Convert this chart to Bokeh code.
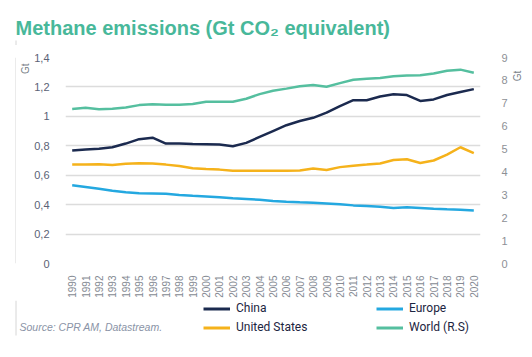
import math
from bokeh.plotting import figure
from bokeh.layouts import column, row
from bokeh.models import (Range1d, LinearAxis, FixedTicker, CustomJSTickFormatter,
                          Label, Legend, LegendItem, Span, FactorRange, Title, Arrow)
from bokeh.embed import file_html
from bokeh.resources import INLINE

years = [str(y) for y in range(1990, 2021)]
china = [0.768, 0.775, 0.78, 0.79, 0.815, 0.845, 0.855, 0.815, 0.815, 0.812, 0.81,
         0.808, 0.797, 0.82, 0.86, 0.9, 0.94, 0.968, 0.99, 1.025, 1.07,
         1.11, 1.11, 1.135, 1.15, 1.145, 1.105, 1.115, 1.145, 1.165, 1.185]
united_states = [0.673, 0.673, 0.675, 0.67, 0.678, 0.682, 0.68, 0.672, 0.662, 0.648, 0.642,
                 0.638, 0.63, 0.63, 0.63, 0.63, 0.63, 0.632, 0.645, 0.636, 0.655,
                 0.665, 0.672, 0.68, 0.703, 0.708, 0.683, 0.7, 0.74, 0.79, 0.75]
europe = [0.532, 0.52, 0.508, 0.495, 0.485, 0.478, 0.476, 0.474, 0.466, 0.46, 0.456,
          0.451, 0.443, 0.438, 0.433, 0.425, 0.42, 0.416, 0.413, 0.408, 0.403,
          0.395, 0.39, 0.385, 0.378, 0.382, 0.377, 0.372, 0.368, 0.365, 0.36]
world_rs = [6.75, 6.8, 6.74, 6.76, 6.82, 6.92, 6.96, 6.94, 6.94, 6.97, 7.07,
            7.07, 7.07, 7.2, 7.4, 7.55, 7.64, 7.74, 7.8, 7.72, 7.88,
            8.03, 8.07, 8.1, 8.18, 8.21, 8.22, 8.3, 8.42, 8.47, 8.33]
left_ticks = [0, 0.2, 0.4, 0.6, 0.8, 1.0, 1.2, 1.4]
right_ticks = [0, 1, 2, 3, 4, 5, 6, 7, 8, 9]
series_names = ["China", "United States", "Europe", "World (R.S)"]

TEAL_TITLE = "#48b89a"
C_CHINA = "#1b2a4f"
C_US = "#f5b21b"
C_EU = "#24a8e0"
C_WORLD = "#55bf9f"
RULE = "#d6d6d6"
W = 532
TOP_H = 45
MID_H = 255
BOT_H = 357 - TOP_H - MID_H
STRIP_W = 16
RSTRIP_W = 22


def blank(width, height, y_top_to_bottom):
    f = figure(width=width, height=height, output_backend="svg", toolbar_location=None,
               x_range=Range1d(0, width), y_range=Range1d(*y_top_to_bottom),
               x_axis_location=None, y_axis_location=None,
               min_border=0, min_border_left=0, min_border_right=0,
               min_border_top=0, min_border_bottom=0)
    f.grid.visible = False
    f.outline_line_color = None
    f.background_fill_color = "white"
    f.border_fill_color = "white"
    return f


# ---------- top strip: title ----------
top = blank(W, TOP_H, (TOP_H, 0))
top.add_layout(Label(x=15, y=27.3, text="Methane emissions (Gt CO\u2082 equivalent)",
                     text_font="Liberation Sans", text_font_style="bold",
                     text_font_size="20px", text_color=TEAL_TITLE,
                     text_align="left", text_baseline="alphabetic"))
top.add_layout(Arrow(end=None, x_start=15.5, y_start=40, x_end=15.5, y_end=TOP_H,
                     line_color=RULE, line_width=1))

# ---------- left strip: vertical rule ----------
strip = blank(STRIP_W, MID_H, (MID_H, 0))
strip.add_layout(Span(location=15.5, dimension="height", line_color=RULE, line_width=1))

# ---------- right strip: right axis unit ----------
rstrip = blank(RSTRIP_W, MID_H, (MID_H, 0))
rstrip.add_layout(Label(x=7, y=23, text="Gt", angle=math.pi / 2,
                        text_font="Liberation Sans", text_font_size="10px",
                        text_color="#7a7f88", text_align="center",
                        text_baseline="middle"))

# ---------- main chart ----------
p = figure(width=W - STRIP_W - RSTRIP_W, height=MID_H, output_backend="svg",
           toolbar_location=None,
           x_range=FactorRange(*years, range_padding=0), y_range=Range1d(0, 1.4),
           min_border_left=63 - STRIP_W, min_border_right=W - RSTRIP_W - 484,
           min_border_top=57 - TOP_H, min_border_bottom=MID_H - (57 - TOP_H) - 206)
p.extra_y_ranges = {"rs": Range1d(0, 9)}
p.outline_line_color = None
p.background_fill_color = "white"
p.border_fill_color = "white"

p.line(years, china, line_color=C_CHINA, line_width=2.5)
p.line(years, united_states, line_color=C_US, line_width=2.5)
p.line(years, europe, line_color=C_EU, line_width=2.5)
p.line(years, world_rs, line_color=C_WORLD, line_width=2.5, y_range_name="rs")

p.xgrid.visible = False
p.ygrid.ticker = FixedTicker(ticks=left_ticks)
p.ygrid.grid_line_color = "#dcdcdc"
p.ygrid.grid_line_width = 1.5

xa = p.xaxis[0]
xa.major_label_orientation = math.pi / 2
xa.major_label_text_font = "Liberation Sans"
xa.major_label_text_font_size = "10px"
xa.major_label_text_color = "#858a93"
xa.major_label_standoff = 6
xa.axis_line_color = None
xa.major_tick_line_color = None
xa.minor_tick_line_color = None

ya = p.yaxis[0]
ya.ticker = FixedTicker(ticks=left_ticks)
ya.formatter = CustomJSTickFormatter(
    code="var s = (Math.round(tick*10)/10).toString(); return s.replace('.', ',');")
ya.major_label_text_font = "Liberation Sans"
ya.major_label_text_font_size = "11px"
ya.major_label_text_color = "#5b6275"
ya.major_label_standoff = 10
ya.axis_line_color = None
ya.major_tick_line_color = None
ya.minor_tick_line_color = None

ra = LinearAxis(y_range_name="rs", ticker=FixedTicker(ticks=right_ticks))
ra.major_label_text_font = "Liberation Sans"
ra.major_label_text_font_size = "11px"
ra.major_label_text_color = "#8d9096"
ra.major_label_standoff = 15
ra.axis_line_color = None
ra.major_tick_line_color = None
ra.minor_tick_line_color = None
p.add_layout(ra, "right")

p.add_layout(Title(text="Gt", align="right", offset=6, standoff=2,
                   text_font="Liberation Sans", text_font_style="normal",
                   text_font_size="10px", text_color="#7a7f88"), "left")

# ---------- bottom strip: legend + source ----------
bot = blank(W, BOT_H, (BOT_H, 0))
bot.add_layout(Arrow(end=None, x_start=15.5, y_start=0, x_end=15.5, y_end=35,
                     line_color=RULE, line_width=1))
bot.add_layout(Label(x=19, y=26, text="Source: CPR AM, Datastream.",
                     text_font="Liberation Sans", text_font_style="italic",
                     text_font_size="10.5px", text_color="#8a93a6",
                     text_align="left", text_baseline="middle"))
colors = [C_CHINA, C_US, C_EU, C_WORLD]
# off-canvas placeholder renderers, only used to draw the legend swatches
dummies = [bot.line(x=[-100, -90], y=[-100, -100], line_color=c, line_width=3)
           for c in colors]


def make_legend(idx, x):
    items = [LegendItem(label=series_names[i], renderers=[dummies[i]]) for i in idx]
    return Legend(items=items, location=(x, BOT_H - 34.5), orientation="vertical",
                  label_text_font="Roboto", label_text_font_size="12px",
                  label_text_color="#1c2541", label_standoff=6,
                  glyph_width=27, glyph_height=15, label_height=15, spacing=4,
                  padding=0, margin=0, border_line_color=None,
                  background_fill_alpha=0)


bot.add_layout(make_legend([0, 1], 203), "center")
bot.add_layout(make_legend([2, 3], 376), "center")

layout = column(top, row(strip, p, rstrip, spacing=0), bot, spacing=0)
open("out.html", "w").write(file_html(layout, INLINE))
